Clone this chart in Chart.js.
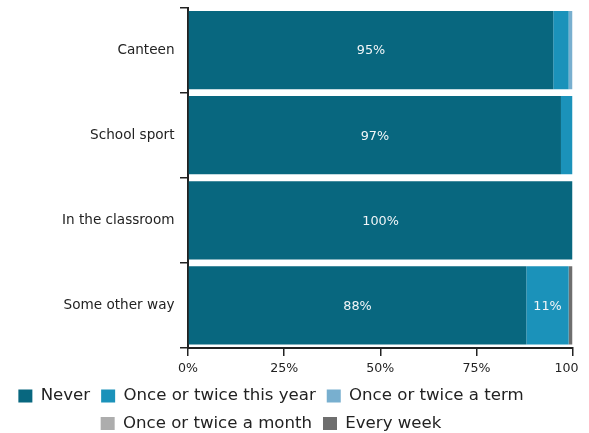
<!DOCTYPE html>
<html>
<head>
<meta charset="utf-8">
<script src="https://cdn.jsdelivr.net/npm/chart.js@4/dist/chart.umd.min.js"></script>
<style>
  html, body { margin: 0; padding: 0; background: #fff; overflow: hidden; }
  #clip { width: 578px; height: 433px; overflow: hidden; }
  #wrap { width: 589px; height: 433px; position: relative; }
</style>
</head>
<body>
<div id="clip"><div id="wrap"><canvas id="c"></canvas></div></div>
<script>
const categories = ["Canteen", "School sport", "In the classroom", "Some other way"];
const seriesNames = ["Never", "Once or twice this year", "Once or twice a term", "Once or twice a month", "Every week"];
const never = [95, 97, 100, 88];
const onceYear = [4, 3, 0, 11];
const onceTerm = [1, 0, 0, 0];
const onceMonth = [0, 0, 0, 0];
const everyWeek = [0, 0, 0, 1];
const xTicks = [0, 25, 50, 75, 100];
const colors = ["#08677f", "#1b92ba", "#78afcf", "#adadad", "#6e6e6e"];

const seriesValues = [never, onceYear, onceTerm, onceMonth, everyWeek];

Chart.defaults.font.family = "'DejaVu Sans', sans-serif";
Chart.defaults.color = "#222";

const barLabels = {
  id: "barLabels",
  afterDatasetsDraw(chart) {
    const ctx = chart.ctx;
    ctx.save();
    ctx.font = "12.8px 'DejaVu Sans', sans-serif";
    ctx.fillStyle = "#f2f6f8";
    ctx.textAlign = "center";
    ctx.textBaseline = "middle";
    chart.data.datasets.forEach((ds, di) => {
      const meta = chart.getDatasetMeta(di);
      meta.data.forEach((el, i) => {
        const v = ds.data[i];
        if (v >= 10) {
          const p = el.getProps(["x", "y", "base"], true);
          ctx.fillText(v + "%", (p.x + p.base) / 2, p.y + 1);
        }
      });
    });
    ctx.restore();
  }
};

const legendShift = {
  id: "legendShift",
  afterLayout(chart) {
    const lg = chart.legend;
    if (!lg) return;
    lg.left = 0;
    lg.right = 542;
    lg.top += 4.7;
    lg.bottom += 4.7;
  }
};

new Chart(document.getElementById("c"), {
  type: "bar",
  data: {
    labels: categories,
    datasets: seriesNames.map((n, i) => ({
      label: n,
      data: seriesValues[i],
      backgroundColor: colors[i],
      borderWidth: 0,
      barPercentage: 0.92,
      categoryPercentage: 1.0
    }))
  },
  options: {
    indexAxis: "y",
    responsive: true,
    maintainAspectRatio: false,
    animation: false,
    layout: { padding: { top: 7.5, right: 16.5, bottom: -4.2, left: 0 } },
    scales: {
      x: {
        stacked: true,
        min: 0,
        max: 100,
        afterBuildTicks(scale) { scale.ticks = xTicks.map(v => ({ value: v })); },
        afterFit(scale) { scale.paddingLeft = 0; scale.paddingRight = 0; scale.height = 24; },
        ticks: {
          callback: v => v + "%",
          font: { size: 12.6 },
          color: "#222",
          padding: 5,
          maxRotation: 0
        },
        grid: { drawOnChartArea: false, drawTicks: true, tickLength: 8, color: "#222", lineWidth: 1.5 },
        border: { display: true, color: "#222", width: 2 }
      },
      y: {
        stacked: true,
        afterFit(scale) { scale.width = 188; scale.paddingTop = 0; scale.paddingBottom = 0; },
        ticks: { font: { size: 13.6 }, color: "#222", padding: 5.5, autoSkip: false },
        grid: { offset: true, drawOnChartArea: false, drawTicks: true, tickLength: 8, color: "#222", lineWidth: 1.5 },
        border: { display: true, color: "#222", width: 2 }
      }
    },
    plugins: {
      legend: {
        position: "bottom",
        align: "center",
        labels: {
          boxWidth: 14,
          boxHeight: 13,
          padding: 11,
          color: "#222",
          font: { size: 16.6 }
        }
      },
      tooltip: { enabled: false }
    }
  },
  plugins: [barLabels, legendShift]
});
</script>
</body>
</html>
